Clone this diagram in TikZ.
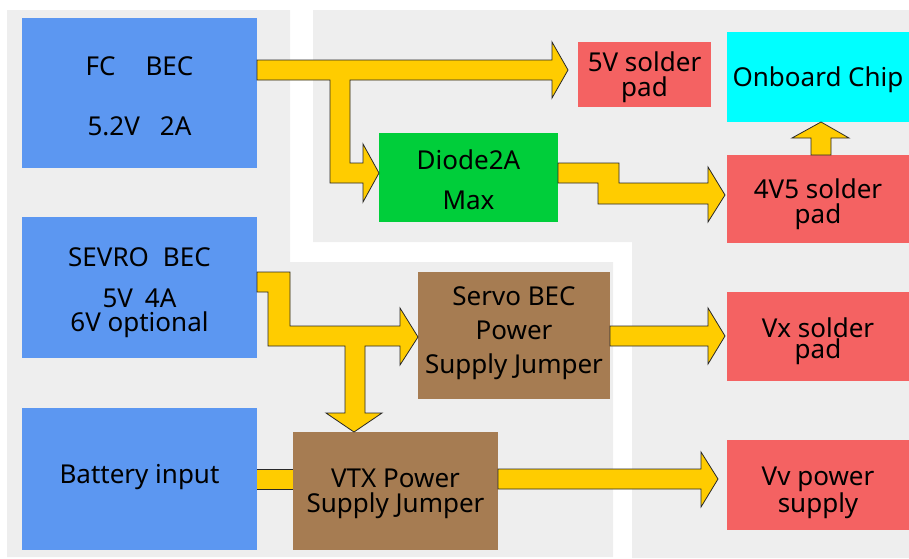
\documentclass[tikz,border=0pt]{standalone}
\usepackage{fontspec}
\setmainfont{Noto Sans}
\definecolor{zonegray}{RGB}{238,238,238}
\definecolor{srcblue}{RGB}{92,151,241}
\definecolor{padred}{RGB}{244,98,98}
\definecolor{chipcyan}{RGB}{0,255,255}
\definecolor{diodegreen}{RGB}{0,206,58}
\definecolor{jumperbrown}{RGB}{166,124,82}
\definecolor{railyellow}{RGB}{255,204,0}
\definecolor{railedge}{RGB}{40,40,40}
\begin{document}
\begin{tikzpicture}[x=1pt,y=-1pt,
  box/.style={inner sep=0pt, outer sep=0pt, anchor=north west},
  txt/.style={inner sep=0pt, align=center, font=\fontsize{26}{26}\selectfont},
  rail/.style={fill=railyellow, draw=railedge, line width=0.8pt, line join=miter},
  zone/.style={fill=zonegray}]
\useasboundingbox (0,0) rectangle (909,558);

% grey panels
\fill[zone] (7,10) -- (290,10) -- (290,262) -- (613,262) -- (613,557) -- (7,557) -- cycle;
\fill[zone] (313,10) -- (909,10) -- (909,558) -- (632,558) -- (632,242) -- (313,242) -- cycle;

% battery feed runs underneath both blocks
\draw[rail] (30,469) rectangle (300,489);

% blocks
\node[box, fill=srcblue, minimum width=235, minimum height=150] (fc) at (22,18) {};
\node[box, fill=srcblue, minimum width=235, minimum height=141] (sevro) at (22,217) {};
\node[box, fill=srcblue, minimum width=235, minimum height=142] (batt) at (22,408) {};
\node[box, fill=padred, minimum width=133, minimum height=65] (p5v) at (578,42) {};
\node[box, fill=chipcyan, minimum width=182, minimum height=90] (chip) at (727,32) {};
\node[box, fill=padred, minimum width=182, minimum height=88] (p4v5) at (727,155) {};
\node[box, fill=diodegreen, minimum width=179, minimum height=89] (diode) at (379,133) {};
\node[box, fill=jumperbrown, minimum width=192, minimum height=127] (servo) at (418,272) {};
\node[box, fill=jumperbrown, minimum width=205, minimum height=118] (vtx) at (293,432) {};
\node[box, fill=padred, minimum width=182, minimum height=89] (vx) at (727,292) {};
\node[box, fill=padred, minimum width=182, minimum height=90] (vv) at (727,440) {};

% block captions
\node[txt, font=\fontsize{26}{60}\selectfont] (fc-t) at ([yshift=-3pt]fc.center)
  {FC\hspace{30pt}BEC\\5.2V\hspace{20pt}2A};
\node[txt, font=\fontsize{26}{24}\selectfont] (sevro-t) at ([yshift=-5pt]sevro.center)
  {SEVRO\hspace{14pt}BEC\\[17pt]5V\hspace{12pt}4A\\6V optional};
\node[txt] (batt-t) at ([yshift=2pt]batt.center) {Battery input};
\node[txt, font=\fontsize{26}{25}\selectfont] (p5v-t) at ([yshift=-3pt]p5v.center) {5V solder\\pad};
\node[txt] (chip-t) at ([yshift=-3pt]chip.center) {Onboard Chip};
\node[txt, font=\fontsize{26}{25}\selectfont] (p4v5-t) at ([yshift=-5pt]p4v5.center) {4V5 solder\\pad};
\node[txt, font=\fontsize{26}{40}\selectfont] (diode-t) at ([yshift=-2pt]diode.center) {Diode2A\\Max};
\node[txt, font=\fontsize{26}{34}\selectfont] (servo-t) at ([yshift=2pt]servo.center)
  {Servo BEC\\Power\\Supply Jumper};
\node[txt, font=\fontsize{26}{25}\selectfont] (vtx-t) at ([yshift=-3pt]vtx.center) {VTX Power\\Supply Jumper};
\node[txt, font=\fontsize{26}{20}\selectfont] (vx-t) at ([yshift=-5pt]vx.center) {Vx solder\\pad};
\node[txt, font=\fontsize{26}{24}\selectfont] (vv-t) at ([yshift=-8pt]vv.center) {Vv power\\supply};

% power rails
\draw[rail] (fc.east |- 0,60) -- (552,60) -- (552,42) -- (568,70)
  -- (552,98) -- (552,80) -- (350,80) -- (350,163) -- (363,163) -- (363,144)
  -- (diode.west |- 0,173) -- (363,202) -- (363,183) -- (330,183) -- (330,80)
  -- (fc.east |- 0,80) -- cycle;
\draw[rail] (diode.east |- 0,163) -- (619,163) -- (619,183) -- (708,183) -- (708,167)
  -- (725,195) -- (708,222) -- (708,204) -- (598,204) -- (598,183)
  -- (diode.east |- 0,183) -- cycle;
\draw[rail] (p4v5.north -| 811,0) -- (811,138) -- (792,138) -- (chip.south -| 821,0)
  -- (849,138) -- (831,138) -- (p4v5.north -| 831,0) -- cycle;
\draw[rail] (sevro.east |- 0,272) -- (290,272) -- (290,326) -- (400,326) -- (400,308)
  -- (servo.west |- 0,337) -- (400,365) -- (400,346) -- (365,346) -- (365,413)
  -- (382,413) -- (vtx.north -| 354,0) -- (326,413) -- (345,413) -- (345,346)
  -- (268,346) -- (268,292) -- (sevro.east |- 0,292) -- cycle;
\draw[rail] (servo.east |- 0,326) -- (708,326) -- (708,308) -- (725,336) -- (708,364)
  -- (708,346) -- (servo.east |- 0,346) -- cycle;
\draw[rail] (vtx.east |- 0,469) -- (701,469) -- (701,452) -- (718,479) -- (701,507)
  -- (701,489) -- (vtx.east |- 0,489) -- cycle;
\end{tikzpicture}
\end{document}
